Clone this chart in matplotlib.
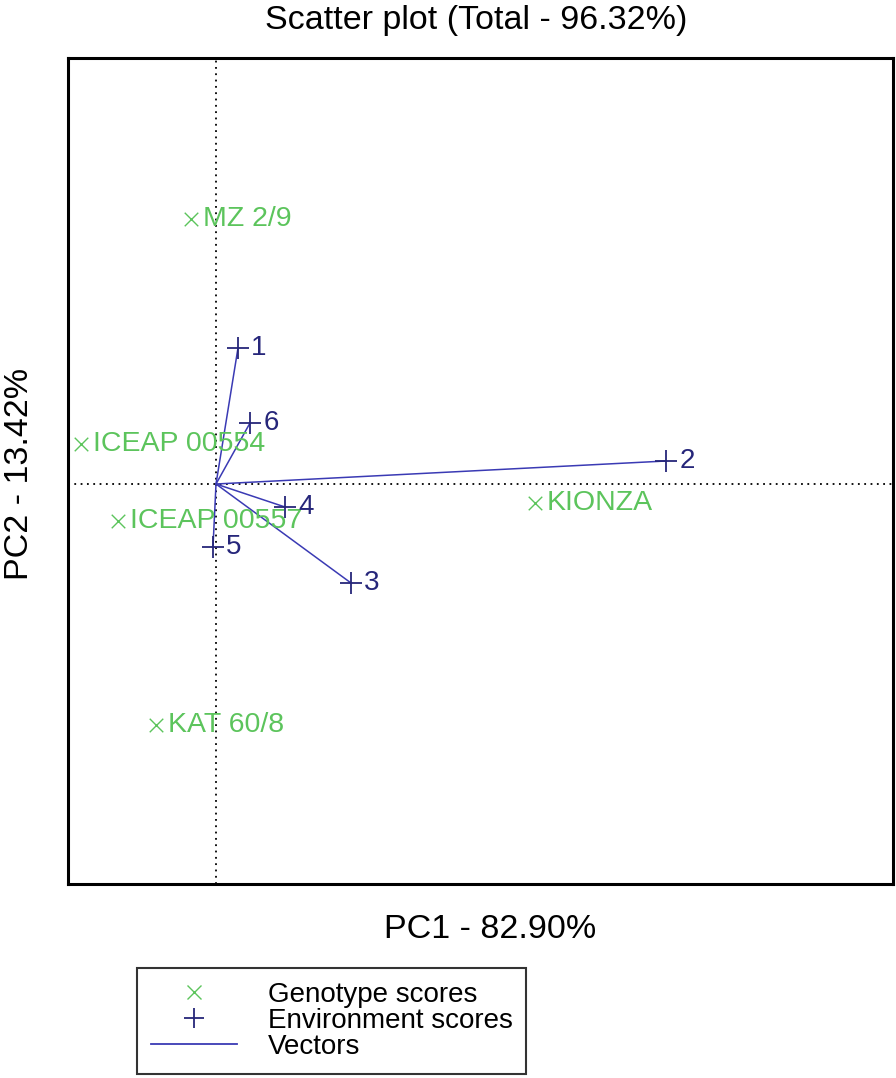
import matplotlib
matplotlib.use("Agg")
import matplotlib.pyplot as plt
from matplotlib.lines import Line2D

plt.rcParams['font.family'] = ['Liberation Sans', 'DejaVu Sans']

# genotype scores (PC1, PC2)
geno_names = ["MZ 2/9", "ICEAP 00554", "ICEAP 00557", "KAT 60/8", "KIONZA"]
geno_pc1 = [-0.25, -1.35, -0.98, -0.60, 3.19]
geno_pc2 = [2.65, 0.40, -0.37, -2.41, -0.19]

# environment scores (PC1, PC2)
env_names = ["1", "2", "3", "4", "5", "6"]
env_pc1 = [0.22, 4.50, 1.35, 0.69, -0.03, 0.34]
env_pc2 = [1.36, 0.23, -0.99, -0.23, -0.63, 0.61]

green = '#5cc45c'
navy = '#26267a'
vec_col = '#3a3ab4'

fig = plt.figure(figsize=(8.96, 10.78), dpi=100)
ax = fig.add_axes([68 / 896, 1 - 884 / 1078, 825 / 896, 826 / 1078])
ax.set_xlim(-1.48, 6.77)
ax.set_ylim(-4.0, 4.26)

ax.axvline(0, color='black', linestyle=(0, (1, 2.5)), linewidth=1.3)
ax.axhline(0, color='black', linestyle=(0, (1, 2.5)), linewidth=1.3)

# vectors from origin to environment scores
for x, y in zip(env_pc1, env_pc2):
    ax.plot([0, x], [0, y], color=vec_col, linewidth=1.1)

ax.scatter(geno_pc1, geno_pc2, marker='x', color=green, s=95, linewidths=1.0, zorder=3)
ax.scatter(env_pc1, env_pc2, marker='+', color=navy, s=230, linewidths=1.3, zorder=3)

for n, x, y in zip(geno_names, geno_pc1, geno_pc2):
    ax.annotate(n, (x, y), xytext=(8.5, 0), textcoords='offset points',
                va='center', ha='left', color=green, fontsize=20.5)
for n, x, y in zip(env_names, env_pc1, env_pc2):
    ax.annotate(n, (x, y), xytext=(9.5, 0), textcoords='offset points',
                va='center', ha='left', color=navy, fontsize=20)

ax.set_xticks([])
ax.set_yticks([])
for sp in ax.spines.values():
    sp.set_linewidth(2.2)

fig.text(476 / 896, 1 - 21 / 1078, "Scatter plot (Total - 96.32%)", ha='center', va='center', fontsize=24.5)
fig.text(490 / 896, 1 - 930 / 1078, "PC1 - 82.90%", ha='center', va='center', fontsize=24.5)
fig.text(20 / 896, 1 - 474 / 1078, "PC2 - 13.42%", ha='center', va='center', fontsize=24.5, rotation=90)

handles = [
    Line2D([], [], marker='x', color=green, linestyle='none', markersize=10, markeredgewidth=1.0),
    Line2D([], [], marker='+', color=navy, linestyle='none', markersize=15, markeredgewidth=1.3),
    Line2D([], [], color=vec_col, linewidth=1.3),
]
leg = fig.legend(handles, ["Genotype scores", "Environment scores", "Vectors"],
                 loc='upper left', bbox_to_anchor=(137 / 896, 1 - 968 / 1078),
                 fontsize=20, frameon=True, fancybox=False, edgecolor='black',
                 handlelength=3.1, labelspacing=0.0, borderpad=0.5, handletextpad=1.1,
                 borderaxespad=0)
leg.get_frame().set_linewidth(1.5)

fig.savefig("out.png", dpi=100)
